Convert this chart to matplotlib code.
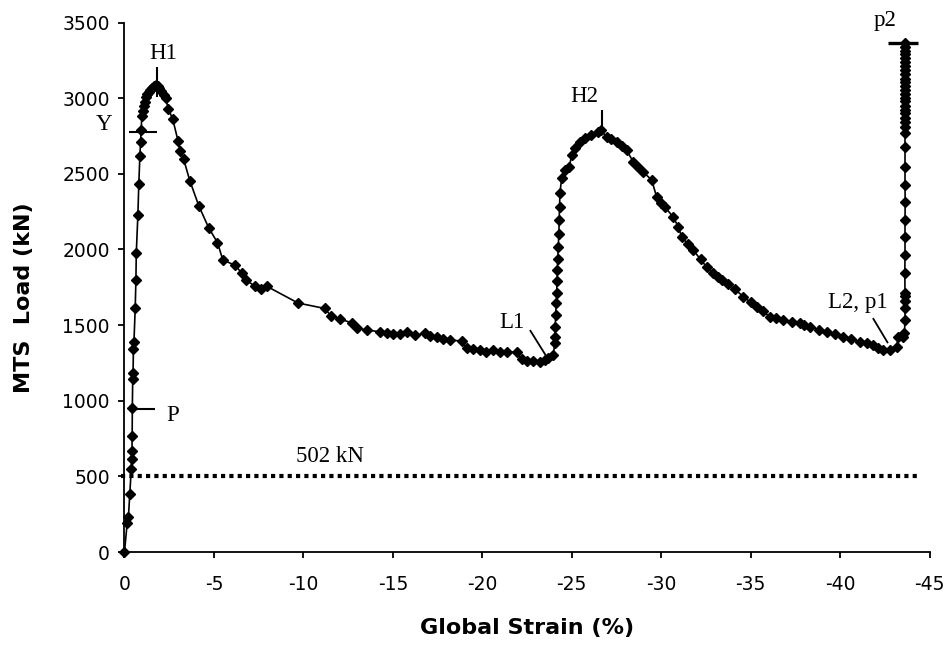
import numpy as np
import matplotlib
matplotlib.use("Agg")
import matplotlib.pyplot as plt
import matplotlib.transforms as mtransforms

# Global strain (%) (negative = compression)
strain = [
    0, -0.15, -0.22, -0.3, -0.38, -0.4, -0.42, -0.43, -0.44, -0.46, -0.48, -0.5, -0.53,
    -0.6, -0.64, -0.66, -0.75, -0.8, -0.86, -0.9, -0.93, -0.97, -1.02, -1.07, -1.12,
    -1.2, -1.28, -1.36, -1.45, -1.55, -1.65, -1.75, -1.85, -1.95, -2.05, -2.2, -2.3,
    -2.45, -2.7, -3.0, -3.1, -3.3, -3.65, -4.15, -4.7, -5.2, -5.5, -6.2, -6.55, -6.8,
    -7.3, -7.65, -7.95, -9.7, -11.2, -11.55, -12.05, -12.7, -12.98, -13.54, -14.28,
    -14.7, -15.03, -15.4, -15.77, -16.24, -16.8, -17.1, -17.45, -17.8, -18.2, -18.85,
    -19.13, -19.5, -19.87, -20.2, -20.6, -21.0, -21.36, -21.92, -22.2, -22.5, -22.85,
    -23.2, -23.5, -23.7, -23.97,
    -24.05, -24.06, -24.08, -24.1, -24.14, -24.16, -24.18, -24.19, -24.22, -24.25,
    -24.28, -24.3, -24.32, -24.34, -24.44, -24.62, -24.86, -25.0, -25.18, -25.45,
    -25.74, -26.1, -26.48, -26.62, -26.95, -27.2, -27.51, -27.8, -28.07, -28.44, -28.7,
    -29.0, -29.47, -29.75, -30.0, -30.21, -30.68, -30.96, -31.15, -31.5, -31.79, -32.2,
    -32.54, -32.9, -33.19, -33.4, -33.75, -34.1, -34.6, -35.0, -35.34, -35.7, -36.08,
    -36.4, -36.83, -37.3, -37.76, -38.0, -38.32, -38.8, -39.25, -39.7, -40.18, -40.6,
    -41.11, -41.5, -41.86, -42.1, -42.42, -42.8, -43.16, -43.25, -43.53, -43.6,
    -43.63, -43.63, -43.64, -43.63, -43.63, -43.62, -43.63, -43.63, -43.63, -43.64,
    -43.63, -43.63, -43.63, -43.63,
    -43.63, -43.64, -43.63, -43.63, -43.62, -43.63, -43.63, -43.64, -43.63, -43.63,
    -43.63, -43.62, -43.63, -43.63, -43.64, -43.63, -43.63, -43.63, -43.62, -43.63,
    -43.63, -43.63,
]

# MTS load (kN)
load = [
    0, 190, 230, 385, 550, 615, 670, 770, 955, 1145, 1185, 1345, 1390,
    1610, 1800, 1975, 2230, 2430, 2615, 2710, 2790, 2880, 2915, 2950, 2975,
    3005, 3025, 3040, 3055, 3068, 3080, 3088, 3078, 3065, 3048, 3022, 3000,
    2930, 2860, 2715, 2650, 2600, 2455, 2290, 2145, 2045, 1930, 1895, 1843, 1797,
    1757, 1737, 1757, 1646, 1610, 1560, 1540, 1515, 1480, 1467, 1456,
    1450, 1441, 1438, 1456, 1434, 1445, 1430, 1423, 1410, 1401, 1395,
    1346, 1340, 1335, 1325, 1335, 1320, 1324, 1320, 1275, 1260, 1265,
    1255, 1270, 1280, 1302,
    1380, 1423, 1487, 1566, 1646, 1712, 1790, 1864, 1940, 2016,
    2100, 2194, 2280, 2373, 2472, 2525, 2545, 2624, 2670, 2710,
    2736, 2758, 2776, 2788, 2744, 2728, 2710, 2685, 2657, 2578, 2545,
    2512, 2459, 2346, 2310, 2280, 2214, 2148, 2082, 2035, 1996, 1935,
    1884, 1842, 1818, 1798, 1770, 1740, 1687, 1650, 1621, 1590, 1555,
    1545, 1533, 1520, 1512, 1500, 1489, 1470, 1456, 1440, 1423, 1405,
    1390, 1380, 1368, 1352, 1335, 1335, 1357, 1420, 1423, 1450,
    1533, 1611, 1660, 1690, 1710, 1842, 1963, 2082, 2194, 2313,
    2426, 2545, 2677, 2769,
    2810, 2845, 2870, 2900, 2925, 2950, 2980, 3000, 3030, 3055,
    3080, 3105, 3130, 3160, 3185, 3210, 3240, 3265, 3290, 3310,
    3335, 3364,
]

ref_load = 502  # kN, dotted reference line

x_ticks = [0, -5, -10, -15, -20, -25, -30, -35, -40, -45]
y_ticks = [0, 500, 1000, 1500, 2000, 2500, 3000, 3500]

sans = "DejaVu Sans"
serif = "Liberation Serif"

fig = plt.figure(figsize=(9.48, 6.51), dpi=100)
ax = fig.add_axes([0.1313, 0.152, 0.8492, 0.8134])

s = np.array(strain)
f = np.array(load)

ax.plot(s, f, color="black", lw=1.2, marker="D", markersize=5.2,
        markerfacecolor="black", markeredgecolor="black", zorder=3, clip_on=False)

# dotted 502 kN line
ax.plot([0.2, -44.4], [ref_load, ref_load], color="black", lw=3,
        linestyle=(0, (1, 1)), zorder=2, clip_on=False)

ax.set_xlim(0, -45)
ax.set_ylim(0, 3500)
ax.set_xticks(x_ticks)
ax.set_yticks(y_ticks)
ax.set_xticklabels([str(v) for v in x_ticks], fontfamily=sans, fontsize=13.5)
ax.set_yticklabels([str(v) for v in y_ticks], fontfamily=sans, fontsize=13.5)

for side in ["top", "right"]:
    ax.spines[side].set_visible(False)
for side in ["left", "bottom"]:
    ax.spines[side].set_linewidth(1.3)
ax.tick_params(direction="out", length=4.5, width=1.3)
ax.tick_params(axis="x", pad=12)
ax.tick_params(axis="y", pad=6)

ax.set_xlabel("Global Strain (%)", fontfamily=sans, fontsize=16, fontweight="bold")
ax.set_ylabel("MTS  Load (kN)", fontfamily=sans, fontsize=16, fontweight="bold")
ax.xaxis.set_label_coords(0.5, -0.125)
ax.yaxis.set_label_coords(-0.113, 0.48)

# key points taken from the data
first = s > -5
i_h1 = np.argmax(np.where(first, f, -1))
i_y = np.argmax(f >= 2780)
i_p = np.argmax(f >= 950)
seg1 = (s < -20) & (s > -24.05)
i_l1 = np.where(seg1)[0][-1]
seg2 = (s < -20) & (s > -30)
i_h2 = np.argmax(np.where(seg2, f, -1))
seg3 = s < -40
i_l2 = np.argmin(np.where(seg3, f, 1e9))
i_p2 = len(f) - 1


def mark(i, xs, ys, lw=1.5):
    # short line drawn in points, anchored to data point i
    tr = mtransforms.Affine2D().scale(fig.dpi / 72.0) + \
        mtransforms.ScaledTranslation(s[i], f[i], ax.transData)
    ax.plot(xs, ys, color="black", lw=lw, transform=tr, clip_on=False,
            solid_capstyle="butt", zorder=4)


mark(i_h1, [0.7, 0.7], [-9, 13])
mark(i_y, [-8.6, 11.5], [-1.5, -1.5])
mark(i_p, [0, 16.5], [-1, -1])
mark(i_l1, [-16.8, -4.8], [18, -1.2], lw=1.3)
mark(i_h2, [0.7, 0.7], [-1.4, 14.4])
mark(i_l2, [-7.5, 3.3], [23, 5], lw=1.3)
mark(i_p2, [-12.2, 9.4], [0, 0], lw=2.4)

tkw = dict(fontfamily=serif, fontsize=16.5, ha="center", va="center")
ax.text(-2.15, 3297, "H1", **tkw)
ax.text(1.15, 2829, "Y", **tkw)
ax.text(-2.71, 905, "P", **tkw)
ax.text(-11.5, 634, "502 kN", **tkw)
ax.text(-21.66, 1520, "L1", **tkw)
ax.text(-25.7, 3014, "H2", **tkw)
ax.text(-41.0, 1650, "L2, p1", **tkw)
ax.text(-42.5, 3516, "p2", **tkw)

fig.savefig("out.png", dpi=100)
